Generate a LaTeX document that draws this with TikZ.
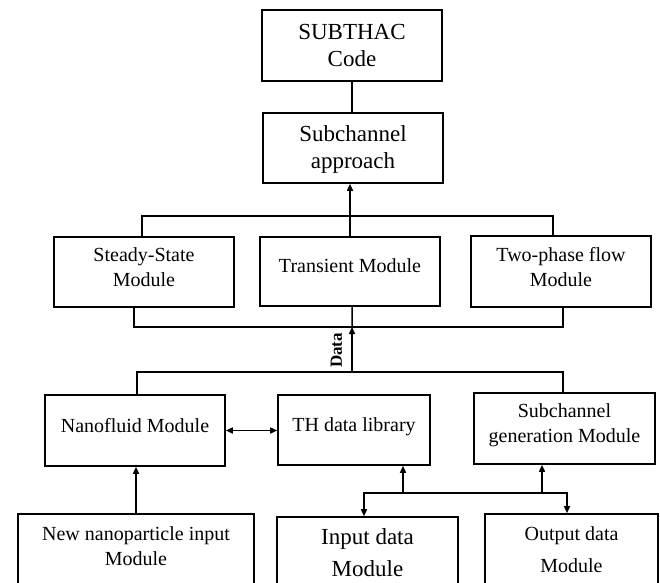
\documentclass[tikz,border=0pt]{standalone}
\usepackage{fontspec}
\setmainfont{Liberation Serif}
\usetikzlibrary{arrows.meta}
\begin{document}
\begin{tikzpicture}[x=1bp,y=-1bp,
  box/.style={draw, line width=1.6bp, align=center, inner sep=3bp,
    font=\fontsize{20bp}{25bp}\selectfont},
  bigtext/.style={font=\fontsize{23bp}{27bp}\selectfont},
  midtext/.style={text depth=10bp},
  conn/.style={line width=1.5bp},
  arr/.style={conn, -{Triangle[length=7bp,width=6bp]}},
  arrtwo/.style={conn, {Triangle[length=7bp,width=6bp]}-{Triangle[length=7bp,width=6bp]}}
]
\useasboundingbox (0,0) rectangle (660,583);
\fill[white] (0,0) rectangle (660,583);
\clip (0,0) rectangle (660,583);

% boxes
\node[box, bigtext, minimum width=180bp, minimum height=71bp, text depth=0bp] (subthac) at (352,45.5) {SUBTHAC\\Code};
\node[box, bigtext, minimum width=180bp, minimum height=70bp, text depth=1bp] (subch) at (353,148) {Subchannel\\approach};
\node[box, midtext, minimum width=180bp, minimum height=70bp] (steady) at (144,272) {Steady-State\\Module};
\node[box, midtext, text depth=12bp, minimum width=180bp, minimum height=69bp] (trans) at (350,271.5) {Transient Module};
\node[box, midtext, minimum width=180bp, minimum height=71bp] (two) at (561,271.5) {Two-phase flow\\Module};
\node[box, midtext, minimum width=180bp, minimum height=71bp] (nano) at (135,430.5) {Nanofluid Module};
\node[box, midtext, minimum width=152bp, minimum height=70bp] (th) at (354,430) {TH data library};
\node[box, midtext, minimum width=181bp, minimum height=71bp] (subgen) at (564.5,428.5) {Subchannel\\generation Module};
\node[box, text depth=26bp, minimum width=236bp, minimum height=89bp] (newnano) at (136,558.75) {New nanoparticle input\\Module};
\node[box, text depth=14bp, minimum width=181bp, minimum height=86bp,
  font=\fontsize{23bp}{32bp}\selectfont] (input) at (367.5,560) {Input data\\Module};
\node[box, text depth=17bp, minimum width=173bp, minimum height=89bp,
  font=\fontsize{20bp}{32bp}\selectfont] (output) at (571.5,558.5) {Output data\\Module};

% top connectors
\draw[conn] (subthac.south) -- (subthac.south |- subch.north);
\draw[arr] (trans.north) -- (trans.north |- subch.south);
\coordinate (tb) at (350,216);
\draw[conn] ([xshift=-2bp]steady.north) |- (tb) -| ([xshift=-8bp]two.north);

% middle bus
\coordinate (mb) at (352,327);
\coordinate (lb) at (352,372);
\draw[conn] ([xshift=-10bp]steady.south) |- (mb) -| ([xshift=2bp]two.south);
\draw[conn] ([xshift=2bp]trans.south) -- (mb);
\draw[arr] (lb) -- (mb);
\node[rotate=90, inner sep=0pt, font=\fontsize{17bp}{20bp}\selectfont\bfseries] (data) at (336.5,350.5) {Data};
\draw[conn] ([xshift=2bp]nano.north) |- (lb) -| ([xshift=-1.5bp]subgen.north);

% lower connectors
\draw[arrtwo] (nano.east) -- (nano.east -| th.west);
\draw[arr] (newnano.north) -- (newnano.north |- nano.south);
\coordinate (j1) at (403,493);
\coordinate (j2) at (542,493);
\draw[arr] (j1) -- (j1 |- th.south);
\draw[arr] (j2) -- (j2 |- subgen.south);
\draw[conn] (j1) -- (j2);
\draw[arr] (j1) -| ([xshift=-3.5bp]input.north);
\draw[arr] (j2) -| ([xshift=-4.5bp]output.north);
\end{tikzpicture}
\end{document}
